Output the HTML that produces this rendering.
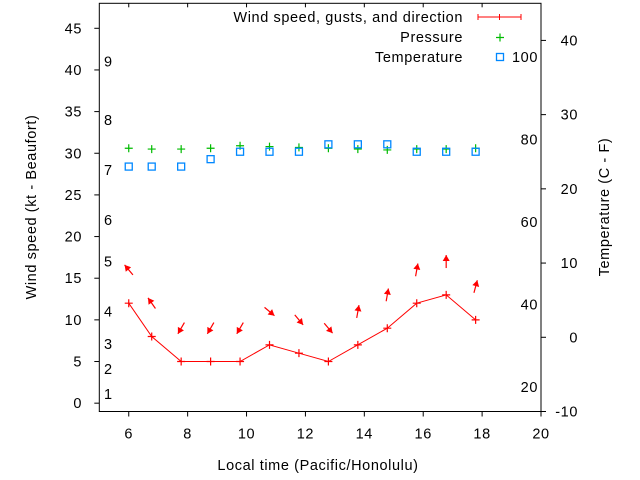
<!DOCTYPE html>
<html><head><meta charset="utf-8"><style>
html,body{margin:0;padding:0;background:#fff}
svg{display:block;font-family:"Liberation Sans",sans-serif;font-size:14.5px;letter-spacing:0.6px}
</style></head><body>
<svg id="chart" width="640" height="480" viewBox="0 0 640 480" xmlns="http://www.w3.org/2000/svg">
<rect width="640" height="480" fill="#fff"/>
<g id="axes"></g>
<g id="marks"></g>
<g id="legend">
  <text x="463" y="22" text-anchor="end">Wind speed, gusts, and direction</text>
  <line x1="478" y1="17" x2="521" y2="17" stroke="#f00" stroke-width="1"/>
  <line x1="478" y1="14" x2="478" y2="20" stroke="#f00"/>
  <line x1="521" y1="14" x2="521" y2="20" stroke="#f00"/>
  <line x1="499.5" y1="14" x2="499.5" y2="20" stroke="#f00"/>
  <text x="463" y="42" text-anchor="end">Pressure</text>
  <path d="M496 37.5h8M500 33.5v8" stroke="#0b0" stroke-width="1.2"/>
  <text x="463" y="62" text-anchor="end">Temperature</text>
  <rect x="496.5" y="53.5" width="7" height="7" fill="none" stroke="#08f" stroke-width="1.3"/>
</g>
<text x="318" y="470" text-anchor="middle">Local time (Pacific/Honolulu)</text>
<text transform="translate(36,207) rotate(-90)" text-anchor="middle">Wind speed (kt - Beaufort)</text>
<text transform="translate(609,207) rotate(-90)" text-anchor="middle">Temperature (C - F)</text>
</svg>
<script>
const hours = [6, 6.78, 7.78, 8.78, 9.78, 10.78, 11.78, 12.78, 13.78, 14.78, 15.78, 16.78, 17.78];
const windKt = [12, 8, 5, 5, 5, 7, 6, 5, 7, 9, 12, 13, 10];
const windDirTo = [320, 325, 210, 210, 210, 130, 140, 140, 10, 10, 10, 0, 15];
const pressure = [30.6, 30.5, 30.5, 30.6, 30.9, 30.8, 30.7, 30.6, 30.5, 30.4, 30.5, 30.5, 30.6];
const tempC = [23, 23, 23, 24, 25, 25, 25, 26, 26, 26, 25, 25, 25];
const xTicks = [6, 8, 10, 12, 14, 16, 18, 20];
const yTicks = [0, 5, 10, 15, 20, 25, 30, 35, 40, 45];
const y2Ticks = [-10, 0, 10, 20, 30, 40];
const beaufortLabels = [1, 2, 3, 4, 5, 6, 7, 8, 9];
const beaufortKt = [1.1, 4.1, 7.1, 11, 17, 22, 28, 34, 41];
const fahrenheitTicks = [20, 40, 60, 80, 100];

const L = 99.3, R = 541, T = 3.3, B = 411.5;
const X = v => L + (v - 5) * (R - L) / 15;
const Y = v => B - (v + 1) * (B - T) / 49;
const Y2 = c => B - (c + 10) * (B - T) / 55;
const NS = 'http://www.w3.org/2000/svg';
function mk(parent, tag, attrs, text) {
  const e = document.createElementNS(NS, tag);
  for (const k in attrs) e.setAttribute(k, attrs[k]);
  if (text !== undefined) e.textContent = text;
  parent.appendChild(e);
  return e;
}
const axes = document.getElementById('axes');
const marks = document.getElementById('marks');

const frame = mk(axes, 'rect', {x: L, y: T, width: R - L, height: B - T, fill: 'none', stroke: '#000', 'stroke-width': 1});



xTicks.forEach(v => {
  const t = mk(axes, 'path', {d: `M${X(v)} ${B}v5`, stroke: '#000'});
  
  
  const tt = mk(axes, 'path', {d: `M${X(v)} ${T}v4`, stroke: '#000'});
  
  
  const l = mk(axes, 'text', {x: X(v), y: B + 27, 'text-anchor': 'middle'}, String(v));
  
  
});
yTicks.forEach(v => {
  const t = mk(axes, 'path', {d: `M${L - 5} ${Y(v)}h5`, stroke: '#000'});
  
  
  const l = mk(axes, 'text', {x: 82, y: Y(v) + 5, 'text-anchor': 'end'}, String(v));
  
  
});
beaufortLabels.forEach((b, i) => {
  const l = mk(axes, 'text', {x: 104, y: Y(beaufortKt[i]) + 5}, String(b));
  
  
});
y2Ticks.forEach(v => {
  const t = mk(axes, 'path', {d: `M${R} ${Y2(v)}h5`, stroke: '#000'});
  
  
  const l = mk(axes, 'text', {x: 578, y: Y2(v) + 5, 'text-anchor': 'end'}, String(v));
  
  
});
fahrenheitTicks.forEach(f => {
  const c = (f - 32) * 5 / 9;
  const l = mk(axes, 'text', {x: 538, y: Y2(c) + 5, 'text-anchor': 'end'}, String(f));
  
  
});

const wl = mk(marks, 'polyline', {points: hours.map((h, i) => `${X(h)},${Y(windKt[i])}`).join(' '), fill: 'none', stroke: '#f00', 'stroke-width': 1});


hours.forEach((h, i) => {
  const p = mk(marks, 'path', {d: `M${X(h) - 4} ${Y(windKt[i])}h8M${X(h)} ${Y(windKt[i]) - 4}v8`, stroke: '#f00', 'stroke-width': 1.2});
  
  
});
hours.forEach((h, i) => {
  const cx = X(h), cy = Y(windKt[i] + 4);
  const a = windDirTo[i] * Math.PI / 180;
  const dx = Math.sin(a), dy = -Math.cos(a);
  const len = 13;
  const x1 = cx - dx * len / 2, y1 = cy - dy * len / 2;
  const x2 = cx + dx * len / 2, y2 = cy + dy * len / 2;
  const g = mk(marks, 'g', {});
  
  
  mk(g, 'line', {x1: x1, y1: y1, x2: x2, y2: y2, stroke: '#f00', 'stroke-width': 1.2});
  const px = -dy, py = dx, hl = 6, hw = 3.5;
  const bx = x2 - dx * hl, by = y2 - dy * hl;
  mk(g, 'polygon', {points: `${x2},${y2} ${bx + px * hw},${by + py * hw} ${bx - px * hw},${by - py * hw}`, fill: '#f00'});
});
hours.forEach((h, i) => {
  const p = mk(marks, 'path', {d: `M${X(h) - 4} ${Y(pressure[i])}h8M${X(h)} ${Y(pressure[i]) - 4}v8`, stroke: '#0b0', 'stroke-width': 1.2});
  
  
});
hours.forEach((h, i) => {
  const r = mk(marks, 'rect', {x: X(h) - 3.5, y: Y2(tempC[i]) - 3.5, width: 7, height: 7, fill: 'none', stroke: '#08f', 'stroke-width': 1.3});
  
  
});
</script>
</body></html>
